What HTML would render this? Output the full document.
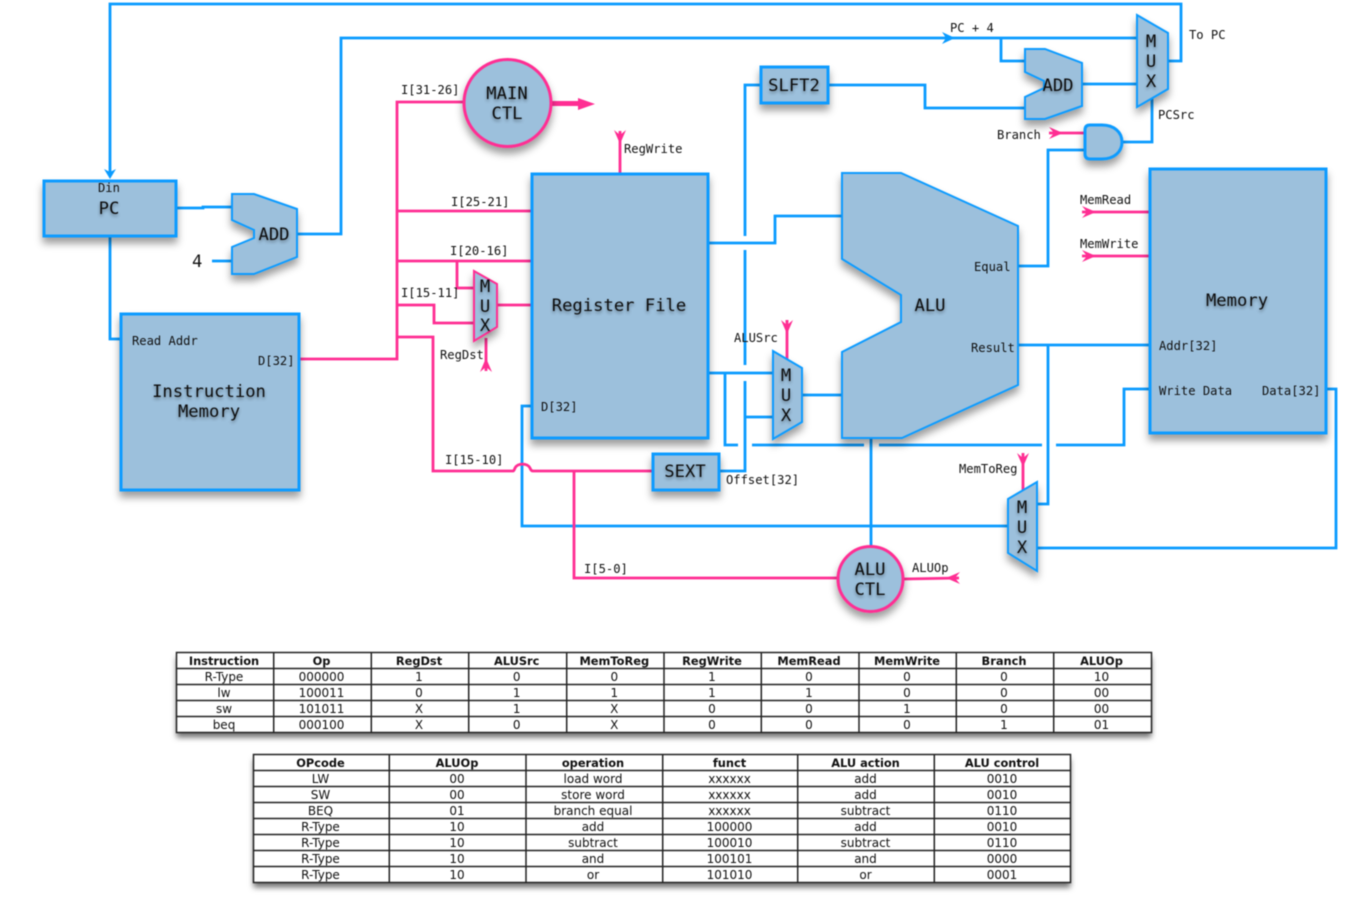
<!DOCTYPE html>
<html><head><meta charset="utf-8"><style>
html,body{margin:0;padding:0;background:#fff;width:1369px;height:900px;overflow:hidden}
svg{display:block;filter:blur(.4px)}
.m{font-family:"DejaVu Sans Mono","Liberation Mono",monospace;fill:#111}
.s{font-size:12.15px}.b{font-size:17.2px}
.t{font-family:"DejaVu Sans","Liberation Sans",sans-serif;font-size:12px;fill:#111;text-anchor:middle}
.h{font-weight:bold;font-size:11.4px}
.w{fill:none;stroke:#0a9bff;stroke-width:2.8}
.p{fill:none;stroke:#ff2e93;stroke-width:2.8}
.f{fill:#9cc0dc;stroke:#0a9bff;stroke-width:2}
.fb{fill:#9cc0dc;stroke:#0a9bff;stroke-width:3}
.fp{fill:#9cc0dc;stroke:#ff2e93;stroke-width:3}
.a{fill:#ff2e93;stroke:none}
.l{stroke:#222;stroke-width:1.5}
</style></head><body>
<svg width="1369" height="900" viewBox="0 0 1369 900" xmlns="http://www.w3.org/2000/svg">
<defs>
<filter id="d" x="-30%" y="-30%" width="160%" height="170%"><feDropShadow dx="0" dy="6" stdDeviation="4" flood-color="#000" flood-opacity=".38"/></filter>
<filter id="ts" x="-20%" y="-30%" width="140%" height="170%"><feDropShadow dx="0" dy="2" stdDeviation="1.6" flood-color="#000" flood-opacity=".4"/></filter>
<filter id="tb" x="-3%" y="-10%" width="106%" height="130%"><feDropShadow dx="0" dy="5" stdDeviation="3" flood-color="#000" flood-opacity=".55"/></filter>
</defs>

<!-- blue wires -->
<g class="w">
<polyline points="1168,61 1181,61 1181,4 110,4 110,172"/>
<polyline points="297,234 341,234 341,38 1137,38"/>
<polyline points="1001,38 1001,61 1025,61"/>
<polyline points="1082,84 1137,84"/>
<polyline points="828,85 925,85 925,108 1025,108"/>
<polyline points="176,208 203,208 203,207 232,207"/>
<polyline points="110,236 110,339 121,339"/>
<polyline points="212,261 232,261"/>
<polyline points="761,85 745,85 745,236"/>
<polyline points="745,250 745,365"/>
<polyline points="745,381 745,471 719,471"/>
<polyline points="745,417 773,417"/>
<polyline points="708,243 775,243 775,216 842,216"/>
<polyline points="708,373 772,373"/>
<polyline points="725,373 725,445 738,445"/>
<polyline points="752,445 864,445"/>
<polyline points="879,445 1042,445"/>
<polyline points="1056,445 1124,445 1124,389 1149,389"/>
<polyline points="802,395 842,395"/>
<polyline points="871,438 871,546"/>
<polyline points="1018,266 1048,266 1048,150 1084,150"/>
<polyline points="1122,142 1152,142 1152,98"/>
<polyline points="1018,345 1149,345"/>
<polyline points="1048,345 1048,504 1037,504"/>
<polyline points="1037,548 1336,548 1336,389 1326,389"/>
<polyline points="533,406 522,406 522,526 1008,526"/>
</g>
<polygon points="110,179 104,169 110,172 116,169" fill="#0a9bff"/>
<polygon points="955,38 942,32 946,38 942,44" fill="#0a9bff"/>

<!-- pink wires -->
<g class="p">
<polyline points="299,359 397,359 397,102 463,102"/>
<polyline points="397,211 531,211"/>
<polyline points="397,261 531,261"/>
<polyline points="457,261 457,288 474,288"/>
<polyline points="397,305 434,305 434,323 474,323"/>
<polyline points="497,305 531,305"/>
<path d="M397,337 H433 V471 H513 Q514,471 515,468 A8,6 0 0 1 530,468 Q531,471 533,471 H652"/>
<polyline points="574,471 574,578 837,578"/>
<polyline points="620,173 620,131"/>
<polyline points="486,338 486,371"/>
<polyline points="787,322 787,320"/>
<polyline points="787,320 787,360"/>
<polyline points="1023,453 1023,492"/>
<polyline points="1049,133 1084,133"/>
<polyline points="1082,212 1149,212"/>
<polyline points="1082,256 1149,256"/>
<polyline points="904,579 959,578"/>
</g>
<g class="a">
<polygon points="614,130 620,135 626,130 620,144"/>
<polygon points="480,372 486,367 492,372 486,358"/>
<polygon points="781,320 787,325 793,320 787,334"/>
<polygon points="1017,453 1023,458 1029,453 1023,467"/>
<polygon points="1049,127 1054,133 1049,139 1063,133"/>
<polygon points="1082,206 1087,212 1082,218 1096,212"/>
<polygon points="1082,250 1087,256 1082,262 1096,256"/>
<polygon points="960,572 955,578 960,584 946,578"/>
<polygon points="551,101 578,101 578,98 595,104 578,110 578,106 551,106"/>
</g>

<!-- shapes -->
<g filter="url(#d)">
<rect class="fb" x="44" y="181" width="132" height="55"/>
<rect class="fb" x="121" y="314" width="178" height="176"/>
<rect class="fb" x="532" y="174" width="176" height="264"/>
<rect class="fb" x="1150" y="169" width="176" height="264"/>
<rect class="fb" x="761" y="67" width="67" height="36"/>
<rect class="fb" x="653" y="454" width="66" height="36"/>
<polygon class="f" points="232,194 254,194 297,209 297,257 254,274 232,274 232,247 254,238 254,230 232,220"/>
<polygon class="f" points="1025,49 1045,49 1082,63 1082,106 1045,119 1025,119 1025,97 1044,88 1044,81 1025,72"/>
<polygon class="f" points="842,173 901,173 1018,226 1018,385 902,438 842,438 842,352 901,322 901,295 842,259"/>
<polygon class="f" points="1137,15 1168,33 1168,89 1137,107"/>
<polygon class="f" points="773,351 802,368 802,422 773,439"/>
<polygon class="f" points="1008,499 1037,482 1037,571 1008,553"/>
<polygon class="f" style="stroke:#ff2e93" points="474,271 497,284 497,327 474,341"/>
<path class="fb" d="M1090,125 H1102 C1114,125 1122,132 1122,142 C1122,152 1114,159 1102,159 H1090 Q1085,159 1085,154 V130 Q1085,125 1090,125 Z"/>
<circle class="fp" cx="507.500" cy="103" r="43.500"/>
<circle class="fp" cx="870.500" cy="579" r="32.500"/>
</g>

<!-- large labels -->
<g class="m b" filter="url(#ts)" text-anchor="middle">
<text x="109" y="214">PC</text>
<text x="274" y="240">ADD</text>
<text x="1058" y="91">ADD</text>
<text x="794" y="91">SLFT2</text>
<text x="507" y="99">MAIN</text>
<text x="507" y="119">CTL</text>
<text x="619" y="311">Register File</text>
<text x="209" y="397">Instruction</text>
<text x="209" y="417">Memory</text>
<text x="930" y="311">ALU</text>
<text x="1237" y="306">Memory</text>
<text x="685" y="477">SEXT</text>
<text x="870" y="575">ALU</text>
<text x="870" y="595">CTL</text>
<text x="1151" y="47">M</text><text x="1151" y="67">U</text><text x="1151" y="87">X</text>
<text x="786" y="381">M</text><text x="786" y="401">U</text><text x="786" y="421">X</text>
<text x="1022" y="513">M</text><text x="1022" y="533">U</text><text x="1022" y="553">X</text>
<text x="485" y="292">M</text><text x="485" y="312">U</text><text x="485" y="331">X</text>
</g>
<text class="m b" x="192" y="267">4</text>

<!-- small labels -->
<g class="m s">
<text x="98" y="192">Din</text>
<text x="401" y="94">I[31-26]</text>
<text x="451" y="206">I[25-21]</text>
<text x="450" y="255">I[20-16]</text>
<text x="401" y="297">I[15-11]</text>
<text x="445" y="464">I[15-10]</text>
<text x="584" y="573">I[5-0]</text>
<text x="624" y="153">RegWrite</text>
<text x="440" y="359">RegDst</text>
<text x="132" y="345">Read Addr</text>
<text x="258" y="365">D[32]</text>
<text x="541" y="411">D[32]</text>
<text x="734" y="342">ALUSrc</text>
<text x="726" y="484">Offset[32]</text>
<text x="974" y="271">Equal</text>
<text x="971" y="352">Result</text>
<text x="997" y="139">Branch</text>
<text x="950" y="32">PC + 4</text>
<text x="1189" y="39">To PC</text>
<text x="1158" y="119">PCSrc</text>
<text x="1080" y="204">MemRead</text>
<text x="1080" y="248">MemWrite</text>
<text x="959" y="473">MemToReg</text>
<text x="912" y="572">ALUOp</text>
<text x="1159" y="350">Addr[32]</text>
<text x="1159" y="395">Write Data</text>
<text x="1262" y="395">Data[32]</text>
</g>

<!-- table 1 -->
<rect x="176.500" y="652.500" width="975" height="80" fill="#fff" filter="url(#tb)"/>
<g class="l">
<rect x="176.500" y="652.500" width="975" height="80" fill="none"/>
<line x1="176" x2="1152" y1="668.500" y2="668.500"/><line x1="176" x2="1152" y1="684.500" y2="684.500"/><line x1="176" x2="1152" y1="700.500" y2="700.500"/><line x1="176" x2="1152" y1="716.500" y2="716.500"/>
<line x1="273.700" x2="273.700" y1="652" y2="733"/><line x1="371.300" x2="371.300" y1="652" y2="733"/><line x1="468.700" x2="468.700" y1="652" y2="733"/><line x1="566.700" x2="566.700" y1="652" y2="733"/><line x1="664" x2="664" y1="652" y2="733"/><line x1="761.300" x2="761.300" y1="652" y2="733"/><line x1="859" x2="859" y1="652" y2="733"/><line x1="956.300" x2="956.300" y1="652" y2="733"/><line x1="1053.700" x2="1053.700" y1="652" y2="733"/>
</g>
<g class="t h">
<text x="224" y="665">Instruction</text><text x="321.500" y="665">Op</text><text x="419" y="665">RegDst</text><text x="516.700" y="665">ALUSrc</text><text x="614.300" y="665">MemToReg</text><text x="712" y="665">RegWrite</text><text x="809" y="665">MemRead</text><text x="907" y="665">MemWrite</text><text x="1004" y="665">Branch</text><text x="1101.500" y="665">ALUOp</text>
</g>
<g class="t">
<text y="681"><tspan x="224">R-Type</tspan><tspan x="321.500">000000</tspan><tspan x="419">1</tspan><tspan x="516.700">0</tspan><tspan x="614.300">0</tspan><tspan x="712">1</tspan><tspan x="809">0</tspan><tspan x="907">0</tspan><tspan x="1004">0</tspan><tspan x="1101.500">10</tspan></text>
<text y="697"><tspan x="224">lw</tspan><tspan x="321.500">100011</tspan><tspan x="419">0</tspan><tspan x="516.700">1</tspan><tspan x="614.300">1</tspan><tspan x="712">1</tspan><tspan x="809">1</tspan><tspan x="907">0</tspan><tspan x="1004">0</tspan><tspan x="1101.500">00</tspan></text>
<text y="713"><tspan x="224">sw</tspan><tspan x="321.500">101011</tspan><tspan x="419">X</tspan><tspan x="516.700">1</tspan><tspan x="614.300">X</tspan><tspan x="712">0</tspan><tspan x="809">0</tspan><tspan x="907">1</tspan><tspan x="1004">0</tspan><tspan x="1101.500">00</tspan></text>
<text y="729"><tspan x="224">beq</tspan><tspan x="321.500">000100</tspan><tspan x="419">X</tspan><tspan x="516.700">0</tspan><tspan x="614.300">X</tspan><tspan x="712">0</tspan><tspan x="809">0</tspan><tspan x="907">0</tspan><tspan x="1004">1</tspan><tspan x="1101.500">01</tspan></text>
</g>

<!-- table 2 -->
<rect x="253.500" y="754.500" width="817" height="128" fill="#fff" filter="url(#tb)"/>
<g class="l">
<rect x="253.500" y="754.500" width="817" height="128" fill="none"/>
<line x1="253" x2="1071" y1="770.500" y2="770.500"/><line x1="253" x2="1071" y1="786.500" y2="786.500"/><line x1="253" x2="1071" y1="802.500" y2="802.500"/><line x1="253" x2="1071" y1="818.500" y2="818.500"/><line x1="253" x2="1071" y1="834.500" y2="834.500"/><line x1="253" x2="1071" y1="850.500" y2="850.500"/><line x1="253" x2="1071" y1="866.500" y2="866.500"/>
<line x1="389.300" x2="389.300" y1="754" y2="883"/><line x1="526" x2="526" y1="754" y2="883"/><line x1="662.700" x2="662.700" y1="754" y2="883"/><line x1="797.700" x2="797.700" y1="754" y2="883"/><line x1="934.300" x2="934.300" y1="754" y2="883"/>
</g>
<g class="t h">
<text x="320.500" y="767">OPcode</text><text x="457" y="767">ALUOp</text><text x="593" y="767">operation</text><text x="729.500" y="767">funct</text><text x="865.500" y="767">ALU action</text><text x="1002" y="767">ALU control</text>
</g>
<g class="t">
<text y="783"><tspan x="320.500">LW</tspan><tspan x="457">00</tspan><tspan x="593">load word</tspan><tspan x="729.500">xxxxxx</tspan><tspan x="865.500">add</tspan><tspan x="1002">0010</tspan></text>
<text y="799"><tspan x="320.500">SW</tspan><tspan x="457">00</tspan><tspan x="593">store word</tspan><tspan x="729.500">xxxxxx</tspan><tspan x="865.500">add</tspan><tspan x="1002">0010</tspan></text>
<text y="815"><tspan x="320.500">BEQ</tspan><tspan x="457">01</tspan><tspan x="593">branch equal</tspan><tspan x="729.500">xxxxxx</tspan><tspan x="865.500">subtract</tspan><tspan x="1002">0110</tspan></text>
<text y="831"><tspan x="320.500">R-Type</tspan><tspan x="457">10</tspan><tspan x="593">add</tspan><tspan x="729.500">100000</tspan><tspan x="865.500">add</tspan><tspan x="1002">0010</tspan></text>
<text y="847"><tspan x="320.500">R-Type</tspan><tspan x="457">10</tspan><tspan x="593">subtract</tspan><tspan x="729.500">100010</tspan><tspan x="865.500">subtract</tspan><tspan x="1002">0110</tspan></text>
<text y="863"><tspan x="320.500">R-Type</tspan><tspan x="457">10</tspan><tspan x="593">and</tspan><tspan x="729.500">100101</tspan><tspan x="865.500">and</tspan><tspan x="1002">0000</tspan></text>
<text y="879"><tspan x="320.500">R-Type</tspan><tspan x="457">10</tspan><tspan x="593">or</tspan><tspan x="729.500">101010</tspan><tspan x="865.500">or</tspan><tspan x="1002">0001</tspan></text>
</g>
</svg>
</body></html>
